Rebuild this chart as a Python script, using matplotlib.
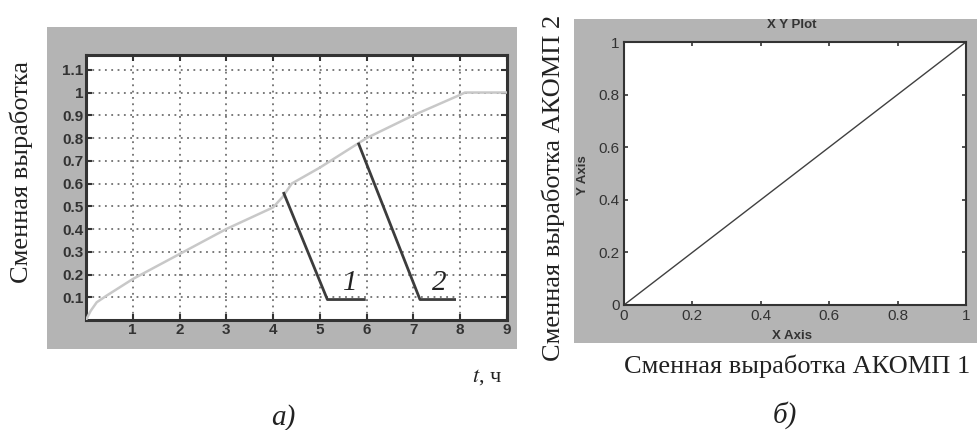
import matplotlib
matplotlib.use('Agg')
import matplotlib.pyplot as plt
from matplotlib.patches import Rectangle

# shift output curve (light gray)
t_curve = [0.0, 0.1, 0.23, 0.44, 1.0, 2.0, 3.0, 4.0, 4.2, 4.4, 5.0, 6.0, 7.0, 8.0, 8.1, 9.0]
y_curve = [0.0, 0.04, 0.078, 0.107, 0.18, 0.29, 0.40, 0.495, 0.54, 0.60, 0.67, 0.80, 0.90, 0.99, 1.0, 1.0]

# falling lines 1 and 2
t_line1 = [4.23, 5.16, 5.95]
y_line1 = [0.557, 0.09, 0.09]
t_line2 = [5.83, 7.14, 7.88]
y_line2 = [0.774, 0.09, 0.09]

xticks_a = [1, 2, 3, 4, 5, 6, 7, 8, 9]
yticks_a = [0.1, 0.2, 0.3, 0.4, 0.5, 0.6, 0.7, 0.8, 0.9, 1.0, 1.1]
ylabels_a = ['0.1', '0.2', '0.3', '0.4', '0.5', '0.6', '0.7', '0.8', '0.9', '1', '1.1']

# XY plot
x_xy = [0.0, 1.0]
y_xy = [0.0, 1.0]
ticks_b = [0, 0.2, 0.4, 0.6, 0.8, 1]
labels_b = ['0', '0.2', '0.4', '0.6', '0.8', '1']

GRAY = '#b4b4b4'
SERIF = ['Liberation Serif', 'DejaVu Serif']
SANS = ['Liberation Sans', 'DejaVu Sans']

fig = plt.figure(figsize=(9.78, 4.30), dpi=100)
fig.patch.set_facecolor('white')

# gray panels behind the axes
fig.add_artist(Rectangle((0.048, 0.188), 0.481, 0.749, transform=fig.transFigure,
                         facecolor=GRAY, edgecolor='none', zorder=0))
fig.add_artist(Rectangle((0.587, 0.202), 0.413, 0.754, transform=fig.transFigure,
                         facecolor=GRAY, edgecolor='none', zorder=0))

# --- a) ---
ax = fig.add_axes([0.0879, 0.2558, 0.4305, 0.6163])
ax.plot(t_curve, y_curve, color='#c8c8c8', lw=1.8, zorder=3)
ax.plot(t_line1, y_line1, color='#3c3c3c', lw=2.0, zorder=4)
ax.plot(t_line2, y_line2, color='#3c3c3c', lw=2.0, zorder=4)
ax.text(5.5, 0.13, '1', fontsize=21, style='italic', family=SERIF, color='#222222')
ax.text(7.4, 0.13, '2', fontsize=21, style='italic', family=SERIF, color='#222222')
ax.set_xlim(0, 9)
ax.set_ylim(0, 1.165)
ax.set_xticks(xticks_a)
ax.set_yticks(yticks_a)
ax.set_yticklabels(ylabels_a)
ax.grid(True, color='#707070', linestyle=(0, (1, 2.5)), lw=1.3)
ax.tick_params(direction='in', length=4, width=1.5, labelsize=11, pad=2,
               right=True, top=True, colors='#333333')
for lab in ax.get_xticklabels() + ax.get_yticklabels():
    lab.set_fontweight('bold')
    lab.set_family(SANS)
for s in ax.spines.values():
    s.set_linewidth(2.2)
    s.set_color('#333333')

fig.text(0.022, 0.6, 'Сменная выработка', rotation=90, ha='center', va='center',
         fontsize=19, family=SERIF, color='#222222')
fig.text(0.498, 0.123, '$t$, ч', ha='center', va='center', fontsize=16,
         family=SERIF, color='#222222', math_fontfamily='stix')
fig.text(0.29, 0.03, 'а)', ha='center', va='center', fontsize=21,
         style='italic', family=SERIF, color='#222222')

# --- б) ---
bx = fig.add_axes([0.638, 0.2907, 0.3497, 0.6116])
bx.plot(x_xy, y_xy, color='#404040', lw=1.0)
bx.set_xlim(0, 1)
bx.set_ylim(0, 1)
bx.set_xticks(ticks_b)
bx.set_xticklabels(labels_b)
bx.set_yticks(ticks_b)
bx.set_yticklabels(labels_b)
bx.tick_params(direction='in', length=3, width=1.2, labelsize=11, pad=3,
               right=True, top=True, colors='#333333')
for lab in bx.get_xticklabels() + bx.get_yticklabels():
    lab.set_family(SANS)
for s in bx.spines.values():
    s.set_linewidth(1.5)
    s.set_color('#333333')

fig.text(0.81, 0.942, 'X Y Plot', ha='center', va='center', fontsize=9.5,
         fontweight='bold', family=SANS, color='#333333')
fig.text(0.81, 0.218, 'X Axis', ha='center', va='center', fontsize=9.5,
         fontweight='bold', family=SANS, color='#333333')
fig.text(0.596, 0.593, 'Y Axis', rotation=90, ha='center', va='center', fontsize=9.5,
         fontweight='bold', family=SANS, color='#333333')
fig.text(0.566, 0.563, 'Сменная выработка АКОМП 2', rotation=90, ha='center',
         va='center', fontsize=19, family=SERIF, color='#222222')
fig.text(0.815, 0.149, 'Сменная выработка АКОМП 1', ha='center', va='center',
         fontsize=19, family=SERIF, color='#222222')
fig.text(0.803, 0.035, 'б)', ha='center', va='center', fontsize=21,
         style='italic', family=SERIF, color='#222222')

fig.savefig('out.png', dpi=100)
